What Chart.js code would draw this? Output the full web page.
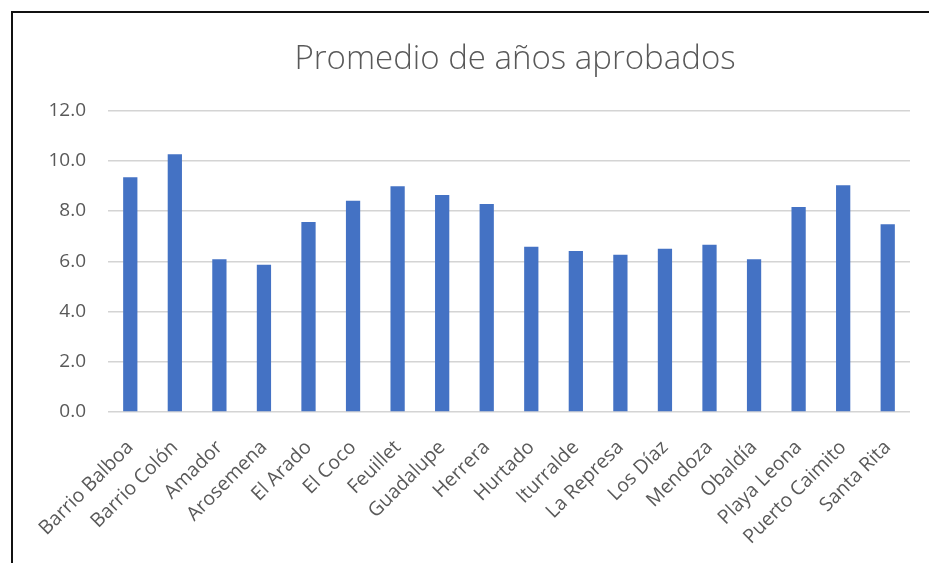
<!DOCTYPE html>
<html>
<head>
<meta charset="utf-8">
<script src="https://cdn.jsdelivr.net/npm/chart.js@4"></script>
<style>
  body { margin: 0; background: #fff; }
  #wrap { position: relative; width: 929px; height: 563px; overflow: hidden; }
  #frame { position: absolute; left: 11px; top: 11px; width: 1000px; height: 600px;
           border-left: 2px solid #111; border-top: 2px solid #111; }
  canvas { position: absolute; left: 0; top: 0; }
</style>
</head>
<body>
<div id="wrap">
  <div id="frame"></div>
  <canvas id="chart" width="929" height="563"></canvas>
</div>
<script>
const barrios = ['Barrio Balboa', 'Barrio Colón', 'Amador', 'Arosemena', 'El Arado', 'El Coco',
    'Feuillet', 'Guadalupe', 'Herrera', 'Hurtado', 'Iturralde', 'La Represa', 'Los Díaz',
    'Mendoza', 'Obaldía', 'Playa Leona', 'Puerto Caimito', 'Santa Rita'];
const promedio = [9.35, 10.26, 6.08, 5.86, 7.56, 8.41, 8.99, 8.64, 8.28, 6.58, 6.41, 6.26,
    6.50, 6.66, 6.08, 8.16, 9.03, 7.48];
const yTicks = [0, 2, 4, 6, 8, 10, 12];

const textColor = '#595959';
const fontFamily = "'Open Sans', sans-serif";

// centre the title over the plot area instead of the whole canvas
const titleOverPlot = {
    id: 'titleOverPlot',
    afterLayout(chart) {
        const t = chart.titleBlock;
        if (!t) return;
        t.left = chart.chartArea.left + 12;
        t.right = chart.chartArea.right;
        t.width = t.right - t.left;
    }
};

const ctx = document.getElementById('chart').getContext('2d');
new Chart(ctx, {
    type: 'bar',
    data: {
        labels: barrios,
        datasets: [{
            label: 'Promedio',
            data: promedio,
            backgroundColor: '#4472C4',
            barPercentage: 0.32,
            categoryPercentage: 1
        }]
    },
    plugins: [titleOverPlot],
    options: {
        responsive: false,
        animation: false,
        devicePixelRatio: 1,
        layout: { padding: { top: 0, left: 0, right: 19, bottom: 0 } },
        plugins: {
            legend: { display: false },
            tooltip: { enabled: false },
            title: {
                display: true,
                text: 'Promedio de años aprobados',
                color: textColor,
                font: { family: fontFamily, size: 33, weight: '300', lineHeight: 1.2 },
                padding: { top: 40, bottom: 31 }
            }
        },
        scales: {
            x: {
                grid: { display: false },
                border: { display: false },
                ticks: {
                    color: textColor,
                    font: { family: fontFamily, size: 19.5 },
                    minRotation: 45,
                    maxRotation: 45,
                    autoSkip: false,
                    padding: 16
                },
                afterFit: function(scale) { scale.height = 151; }
            },
            y: {
                min: 0,
                max: 12,
                afterBuildTicks: function(scale) {
                    scale.ticks = yTicks.map(v => ({ value: v }));
                },
                grid: { color: '#d4d4d4', lineWidth: 1.5, drawTicks: false },
                border: { display: false },
                ticks: {
                    color: textColor,
                    font: { family: fontFamily, size: 19 },
                    padding: 22,
                    callback: v => v.toFixed(1)
                },
                afterFit: function(scale) { scale.width = 108; }
            }
        }
    }
});
</script>
</body>
</html>
